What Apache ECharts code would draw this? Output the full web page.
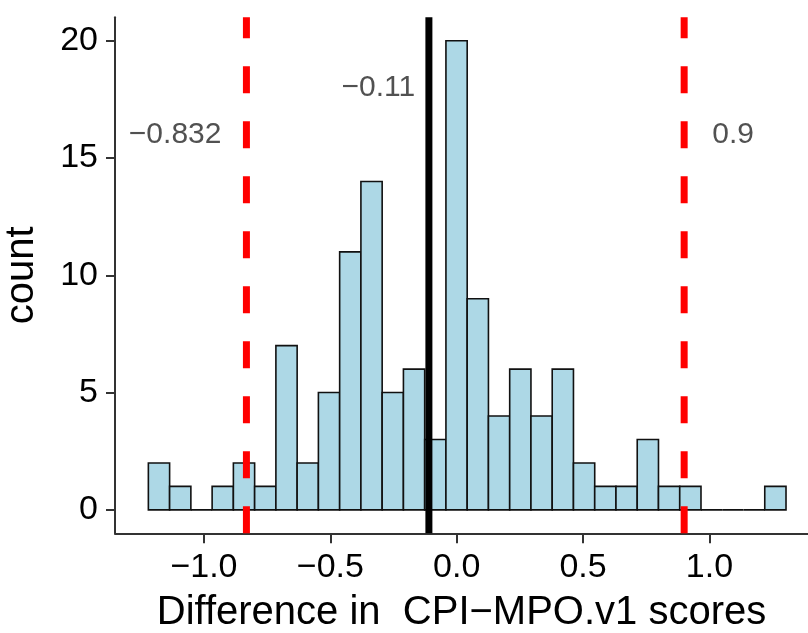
<!DOCTYPE html>
<html>
<head>
<meta charset="utf-8">
<script src="https://cdn.jsdelivr.net/npm/echarts@6/dist/echarts.min.js"></script>
<style>
  html, body { margin: 0; padding: 0; background: #fff; }
  #chart { width: 808px; height: 633px; }
</style>
</head>
<body>
<div id="chart"></div>
<script>
// Histogram of score differences: 30 equal-width bins
const binStart = -1.22;
const binWidth = 0.0841;
const counts = [2, 1, 0, 1, 2, 1, 7, 2, 5, 11, 14, 5, 6, 3, 20, 9, 4, 6, 4, 6, 2, 1, 1, 3, 1, 1, 0, 0, 0, 1];

// Reference lines: limits of agreement (dashed red) and mean difference (solid black)
const limitValues = [-0.832, 0.9];
const meanValue = -0.11;

// Text labels next to the reference lines
const noteX = [-1.114, -0.31, 1.094];
const noteY = [16, 18, 16];
const noteText = ['\u22120.832', '\u22120.11', '0.9'];

const xTicks = [-1.0, -0.5, 0.0, 0.5, 1.0];
const yTicks = [0, 5, 10, 15, 20];

const X_MIN = -1.352, X_MAX = 1.39;
const Y_MIN = -1, Y_MAX = 21;
const FONT = 'Liberation Sans, Arial, Helvetica, sans-serif';

const bins = counts.map((c, i) => [binStart + i * binWidth, binStart + (i + 1) * binWidth, c]);

function fmtTick(v) {
  const s = Number(v).toFixed(1);
  return s.replace('-', '\u2212');
}

function vline(value, color, dashed) {
  return {
    type: 'line',
    data: [[value, Y_MIN], [value, Y_MAX]],
    symbol: 'none',
    silent: true,
    animation: false,
    clip: true,
    lineStyle: { color: color, width: 7, type: dashed ? [27, 28] : 'solid', cap: 'butt' },
    z: 5
  };
}

const chart = echarts.init(document.getElementById('chart'), null, { renderer: 'canvas' });
chart.setOption({
  animation: false,
  backgroundColor: '#ffffff',
  grid: { left: 115, right: 0, top: 17.3, bottom: 99.7, containLabel: false, outerBoundsMode: 'none' },
  xAxis: {
    type: 'value',
    min: X_MIN,
    max: X_MAX,
    name: 'Difference in  CPI\u2212MPO.v1 scores',
    nameLocation: 'middle',
    nameGap: 60,
    nameTextStyle: { fontFamily: FONT, fontSize: 40, color: '#000' },
    axisLine: { show: true, onZero: false, lineStyle: { color: '#333', width: 2 } },
    axisTick: { show: true, length: 10, customValues: xTicks, lineStyle: { color: '#333', width: 2 } },
    axisLabel: {
      customValues: xTicks,
      formatter: fmtTick,
      fontFamily: FONT, fontSize: 34, color: '#000', margin: 17
    },
    splitLine: { show: false }
  },
  yAxis: {
    type: 'value',
    min: Y_MIN,
    max: Y_MAX,
    name: 'count',
    nameLocation: 'middle',
    nameRotate: 90,
    nameGap: 73,
    nameTextStyle: { fontFamily: FONT, fontSize: 40, color: '#000' },
    axisLine: { show: true, onZero: false, lineStyle: { color: '#333', width: 2 } },
    axisTick: { show: true, length: 9, customValues: yTicks, lineStyle: { color: '#333', width: 2 } },
    axisLabel: {
      customValues: yTicks,
      fontFamily: FONT, fontSize: 34, color: '#000', margin: 17
    },
    splitLine: { show: false }
  },
  series: [
    {
      type: 'custom',
      data: bins,
      encode: { x: [0, 1], y: 2 },
      silent: true,
      z: 2,
      renderItem: function (params, api) {
        const p0 = api.coord([api.value(0), api.value(2)]);
        const p1 = api.coord([api.value(1), 0]);
        return {
          type: 'rect',
          shape: { x: p0[0], y: p0[1], width: p1[0] - p0[0], height: p1[1] - p0[1] },
          style: { fill: '#ADD8E6', stroke: '#111', lineWidth: 1.6 }
        };
      }
    },
    vline(meanValue, '#000000', false),
    vline(limitValues[0], '#FF0000', true),
    vline(limitValues[1], '#FF0000', true),
    {
      type: 'scatter',
      data: noteX.map((x, i) => ({ value: [x, noteY[i]], name: noteText[i] })),
      symbolSize: 0,
      silent: true,
      z: 6,
      label: {
        show: true,
        position: 'inside',
        formatter: p => p.name,
        fontFamily: FONT,
        fontSize: 30,
        color: '#262626'
      }
    }
  ]
});
</script>
</body>
</html>
